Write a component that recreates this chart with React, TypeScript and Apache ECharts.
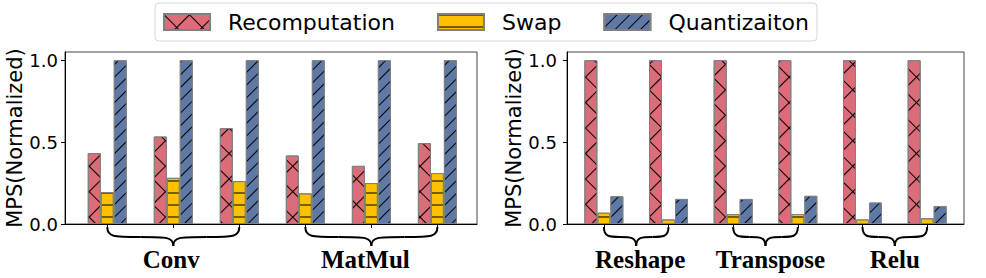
import React, { useEffect, useRef } from 'react';
import * as echarts from 'echarts';

const seriesNames = ['Recomputation', 'Swap', 'Quantizaiton'];
const positions = [0, 1, 2, 3, 4, 5];

const leftRecomputation = [0.433, 0.534, 0.585, 0.418, 0.355, 0.494];
const leftSwap = [0.195, 0.282, 0.262, 0.187, 0.25, 0.311];
const leftQuantization = [1.0, 1.0, 1.0, 1.0, 1.0, 1.0];

const rightRecomputation = [1.0, 1.0, 1.0, 1.0, 1.0, 1.0];
const rightSwap = [0.069, 0.028, 0.06, 0.061, 0.028, 0.035];
const rightQuantization = [0.17, 0.153, 0.153, 0.172, 0.131, 0.11];

const yTicks = [0, 0.5, 1.0];

const leftGroups = [
  { label: 'Conv', from: 0, to: 2 },
  { label: 'MatMul', from: 3, to: 5 },
];
const rightGroups = [
  { label: 'Reshape', from: 0, to: 1 },
  { label: 'Transpose', from: 2, to: 3 },
  { label: 'Relu', from: 4, to: 5 },
];

// small horizontal nudges (px) of the group labels relative to their brace tip
const LABEL_NUDGE: Record<string, number> = { Conv: -2, MatMul: -6, Reshape: 4, Transpose: 5, Relu: 0 };

const COLORS = ['#DC6D78', '#FFC000', '#5F79A7'];
const SANS = 'DejaVu Sans';

const decals: any[] = [
  {
    symbol: 'path://M0,0 L100,0 L100,6 L6,6 L6,100 L0,100 Z',
    symbolSize: 1,
    symbolKeepAspect: false,
    color: '#000',
    dashArrayX: [18, 0],
    dashArrayY: [18, 0],
    rotation: Math.PI / 4,
  },
  {
    symbol: 'rect',
    symbolSize: 1,
    color: '#7a5b00',
    dashArrayX: [1, 0],
    dashArrayY: [2, 10],
    rotation: 0,
  },
  {
    symbol: 'rect',
    symbolSize: 1,
    color: '#000',
    dashArrayX: [1, 0],
    dashArrayY: [1, 8],
    rotation: -Math.PI / 4,
  },
];

function makeSeries(values: number[], idx: number, grid: number) {
  return {
    type: 'bar',
    name: seriesNames[idx],
    xAxisIndex: grid,
    yAxisIndex: grid,
    data: values.map((v, i) => [positions[i], v]),
    barWidth: 13,
    barGap: '0%',
    itemStyle: {
      color: COLORS[idx],
      borderColor: '#808080',
      borderWidth: 1,
      decal: decals[idx],
    },
  };
}

function yAxis(grid: number, nameGap: number, margin: number) {
  return {
    type: 'value',
    gridIndex: grid,
    min: 0,
    max: 1.05,
    splitLine: { show: false },
    axisLine: { show: true, onZero: false, lineStyle: { color: '#000', width: 1 } },
    axisTick: { show: true, customValues: yTicks, length: 4, lineStyle: { color: '#000' } },
    axisLabel: {
      customValues: yTicks,
      formatter: (v: number) => v.toFixed(1),
      fontSize: 18,
      fontFamily: SANS,
      color: '#000',
      margin,
    },
    name: 'MPS(Normalized)',
    nameLocation: 'middle',
    nameRotate: 90,
    nameGap,
    nameTextStyle: { fontSize: 21, fontFamily: SANS, color: '#000' },
  };
}

function xAxis(grid: number, min: number, max: number) {
  return {
    type: 'value',
    gridIndex: grid,
    min,
    max,
    splitLine: { show: false },
    axisLine: { show: true, onZero: false, lineStyle: { color: '#000', width: 1 } },
    axisTick: { show: true, customValues: positions, length: 4, lineStyle: { color: '#000' } },
    axisLabel: { show: false },
  };
}

export default function App() {
  const ref = useRef<HTMLDivElement>(null);
  useEffect(() => {
    if (!ref.current) return;
    const chart = echarts.init(ref.current, null, { renderer: 'svg' });
    const option: any = {
      animation: false,
      backgroundColor: '#fff',
      legend: {
        data: seriesNames,
        left: 155,
        top: 3,
        icon: 'rect',
        itemWidth: 46,
        itemHeight: 16,
        itemGap: 42,
        padding: [7, 8, 7, 8],
        borderColor: '#d6d6d6',
        borderWidth: 1,
        borderRadius: 4,
        selectedMode: false,
        textStyle: {
          fontFamily: SANS,
          fontSize: 22,
          color: '#000',
          lineHeight: 24,
          padding: [0, 0, 0, 13],
        },
      },
      grid: [
        { left: 65, top: 52, width: 412, height: 172, show: true, borderColor: '#444', borderWidth: 1, containLabel: false },
        { left: 567, top: 52, width: 397, height: 172, show: true, borderColor: '#444', borderWidth: 1, containLabel: false },
      ],
      xAxis: [xAxis(0, -0.64, 5.6), xAxis(1, -0.57, 5.57)],
      yAxis: [yAxis(0, 36, 7), yAxis(1, 38, 10)],
      series: [
        makeSeries(leftRecomputation, 0, 0),
        makeSeries(leftSwap, 1, 0),
        makeSeries(leftQuantization, 2, 0),
        makeSeries(rightRecomputation, 0, 1),
        makeSeries(rightSwap, 1, 1),
        makeSeries(rightQuantization, 2, 1),
      ],
    };
    chart.setOption(option);

    const graphics: any[] = [];
    const addGroups = (groups: { label: string; from: number; to: number }[], gridIndex: number) => {
      groups.forEach((g) => {
        const p0 = chart.convertToPixel({ gridIndex } as any, [g.from, 0]) as number[];
        const p1 = chart.convertToPixel({ gridIndex } as any, [g.to, 0]) as number[];
        const x0 = p0[0];
        const x1 = p1[0];
        const xm = (x0 + x1) / 2;
        const base = p0[1];
        const yt = base + 3;
        const ym = base + 13;
        const yp = base + 22;
        const xq0 = (x0 + xm) / 2;
        const xq1 = (xm + x1) / 2;
        const st = { stroke: '#000', lineWidth: 2, fill: null };
        graphics.push(
          { type: 'bezierCurve', silent: true, shape: { x1: x0, y1: yt, cpx1: x0, cpy1: ym, cpx2: x0 + 6, cpy2: ym, x2: xq0, y2: ym }, style: st },
          { type: 'bezierCurve', silent: true, shape: { x1: xq0, y1: ym, cpx1: xm - 6, cpy1: ym, cpx2: xm, cpy2: ym, x2: xm, y2: yp }, style: st },
          { type: 'bezierCurve', silent: true, shape: { x1: xm, y1: yp, cpx1: xm, cpy1: ym, cpx2: xm + 6, cpy2: ym, x2: xq1, y2: ym }, style: st },
          { type: 'bezierCurve', silent: true, shape: { x1: xq1, y1: ym, cpx1: x1 - 6, cpy1: ym, cpx2: x1, cpy2: ym, x2: x1, y2: yt }, style: st },
          {
            type: 'text',
            silent: true,
            x: xm + (LABEL_NUDGE[g.label] || 0),
            y: base + 35,
            style: {
              text: g.label,
              fill: '#000',
              font: 'bold 25px "Liberation Serif"',
              textAlign: 'center',
              verticalAlign: 'middle',
            },
          }
        );
      });
    };
    addGroups(leftGroups, 0);
    addGroups(rightGroups, 1);
    chart.setOption({ graphic: graphics });

    return () => chart.dispose();
  }, []);
  return (
    <div
      ref={ref}
      style={{ position: 'fixed', left: 0, top: 0, width: 986, height: 278, background: '#fff' }}
    />
  );
}
